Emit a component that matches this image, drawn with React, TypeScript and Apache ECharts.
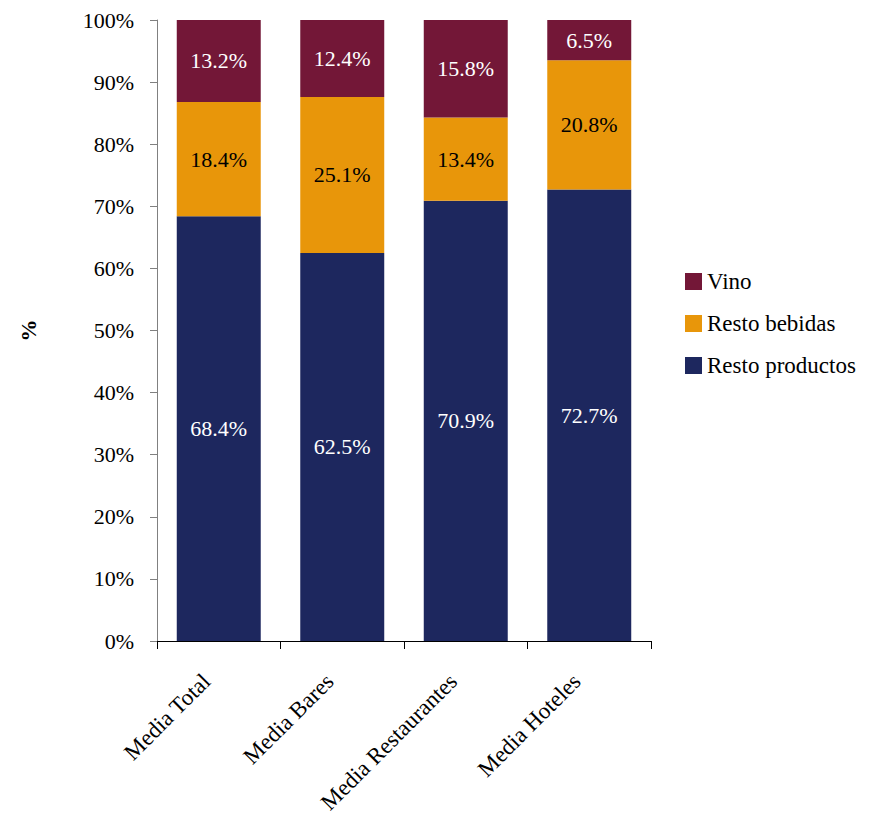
import React, { useEffect, useRef } from "react";
import * as echarts from "echarts";

const categories = ["Media Total", "Media Bares", "Media Restaurantes", "Media Hoteles"];
const vino = [13.2, 12.4, 15.8, 6.5];
const restoBebidas = [18.4, 25.1, 13.4, 20.8];
const restoProductos = [68.4, 62.5, 70.9, 72.7];

const FONT = "'Times New Roman', 'Liberation Serif', serif";
const FS = 22;

export default function App() {
  const ref = useRef<HTMLDivElement>(null);
  useEffect(() => {
    if (!ref.current) return;
    const chart = echarts.init(ref.current, null, { renderer: "svg" });
    const lbl = (color: string) => ({
      show: true,
      position: "inside",
      color,
      fontFamily: FONT,
      fontSize: FS,
      formatter: (p: any) => p.value.toFixed(1) + "%",
    });
    chart.setOption({
      animation: false,
      textStyle: { fontFamily: FONT },
      grid: { left: 157, top: 20, right: 235, bottom: 182 },
      legend: {
        orient: "vertical",
        left: 685,
        top: 270,
        padding: 0,
        itemWidth: 17,
        itemHeight: 17,
        itemGap: 19,
        icon: "rect",
        textStyle: { fontFamily: FONT, fontSize: 23, color: "#000" },
        data: ["Vino", "Resto bebidas", "Resto productos"],
      },
      xAxis: {
        type: "category",
        data: categories,
        axisLine: { lineStyle: { color: "#000", width: 1 } },
        axisTick: { show: true, length: 8, lineStyle: { color: "#000" } },
        axisLabel: {
          rotate: 45,
          interval: 0,
          margin: 49,
          verticalAlign: "bottom",
          lineHeight: 35,
          fontFamily: FONT,
          fontSize: 23,
          color: "#000",
        },
      },
      yAxis: {
        type: "value",
        min: 0,
        max: 100,
        interval: 10,
        name: "%",
        nameLocation: "middle",
        nameGap: 118,
        nameRotate: 90,
        nameTextStyle: { fontFamily: FONT, fontSize: FS, fontWeight: "bold", color: "#000" },
        axisLine: { show: true, lineStyle: { color: "#808080" } },
        axisTick: { show: true, length: 7, lineStyle: { color: "#808080" } },
        splitLine: { show: false },
        axisLabel: {
          margin: 23,
          fontFamily: FONT,
          fontSize: FS,
          color: "#000",
          formatter: (v: number) => v + "%",
        },
      },
      series: [
        {
          name: "Resto productos",
          type: "bar",
          stack: "s",
          data: restoProductos,
          barCategoryGap: "32%",
          itemStyle: { color: "#1D275E" },
          label: lbl("#fff"),
        },
        {
          name: "Resto bebidas",
          type: "bar",
          stack: "s",
          data: restoBebidas,
          itemStyle: { color: "#E8960A" },
          label: lbl("#000"),
        },
        {
          name: "Vino",
          type: "bar",
          stack: "s",
          data: vino,
          itemStyle: { color: "#731737" },
          label: lbl("#fff"),
        },
      ],
    });
    return () => chart.dispose();
  }, []);
  return (
    <div
      ref={ref}
      style={{ position: "absolute", left: 0, top: 0, width: 886, height: 823 }}
    />
  );
}
